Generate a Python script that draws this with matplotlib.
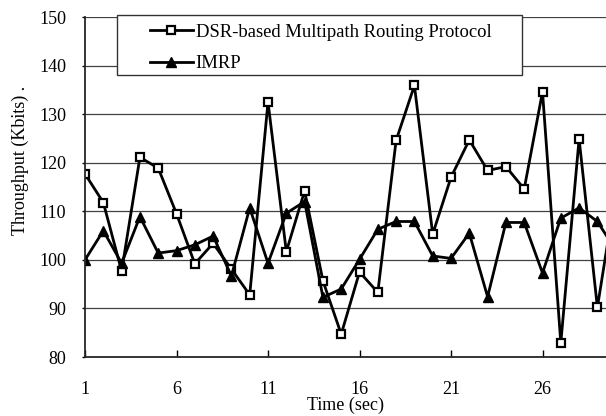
import matplotlib
matplotlib.use("Agg")
import matplotlib.pyplot as plt
from matplotlib.patches import Rectangle

plt.rcParams['font.family'] = ['Liberation Serif', 'DejaVu Serif']

# Data
time_sec = list(range(1, 31))
dsr_multipath = [117.7, 111.8, 97.7, 121.1, 118.9, 109.5, 99.2, 103.4, 98.1, 92.8,
                 132.5, 101.7, 114.2, 95.7, 84.7, 97.5, 93.3, 124.6, 135.9, 105.3,
                 117.0, 124.7, 118.4, 119.2, 114.6, 134.6, 82.9, 124.9, 90.2, 114.0]
imrp = [100.0, 106.0, 99.3, 108.9, 101.4, 101.9, 103.1, 104.9, 96.7, 110.7,
        99.3, 109.6, 112.0, 92.3, 94.0, 100.1, 106.3, 107.9, 107.9, 100.8,
        100.3, 105.5, 92.4, 107.7, 107.7, 97.3, 108.6, 110.7, 107.9, 102.0]
x_ticks = [1, 6, 11, 16, 21, 26]
y_ticks = [80, 90, 100, 110, 120, 130, 140, 150]

fig = plt.figure(figsize=(6.06, 4.16), dpi=100)
ax = fig.add_axes([0.1403, 0.1418, 0.8597, 0.8173])

ax.plot(time_sec, dsr_multipath, color='black', lw=2, marker='s', ms=6,
        mfc='white', mec='black', mew=1.6, label='DSR-based Multipath Routing Protocol')
ax.plot(time_sec, imrp, color='black', lw=2, marker='^', ms=7,
        mfc='black', mec='black', label='IMRP')

ax.set_xlim(1, 29.47)
ax.set_ylim(80, 150)
ax.set_xticks(x_ticks)
ax.set_yticks(y_ticks)

ax.yaxis.grid(True, color='0.25', lw=0.9)
ax.set_axisbelow(True)
for side in ['top', 'right']:
    ax.spines[side].set_visible(False)
for side in ['left', 'bottom']:
    ax.spines[side].set_color('0.15')
    ax.spines[side].set_linewidth(1.3)

ax.tick_params(axis='x', direction='in', length=5, width=1, pad=17, labelsize=13)
ax.tick_params(axis='y', direction='out', length=2.5, width=1, pad=11, labelsize=13)

ax.set_xlabel('Time (sec)', fontsize=13, labelpad=-1)
ax.set_ylabel('Throughput (Kbits) .', fontsize=13)
ax.yaxis.set_label_coords(-0.107, 0.579)

# legend box drawn separately so the entries can sit away from its left edge
ax.add_patch(Rectangle((0.0614, 0.829), 0.7776, 0.1765, transform=ax.transAxes,
                       facecolor='white', edgecolor='0.2', lw=1.0, clip_on=False, zorder=4))
leg = ax.legend(loc='upper left', bbox_to_anchor=(0.1248, 0.98), borderaxespad=0,
                borderpad=0, fontsize=13.4, frameon=False, handlelength=2.3,
                handletextpad=0.15, labelspacing=0.76)
leg.set_zorder(5)

fig.savefig('out.png', dpi=100)
